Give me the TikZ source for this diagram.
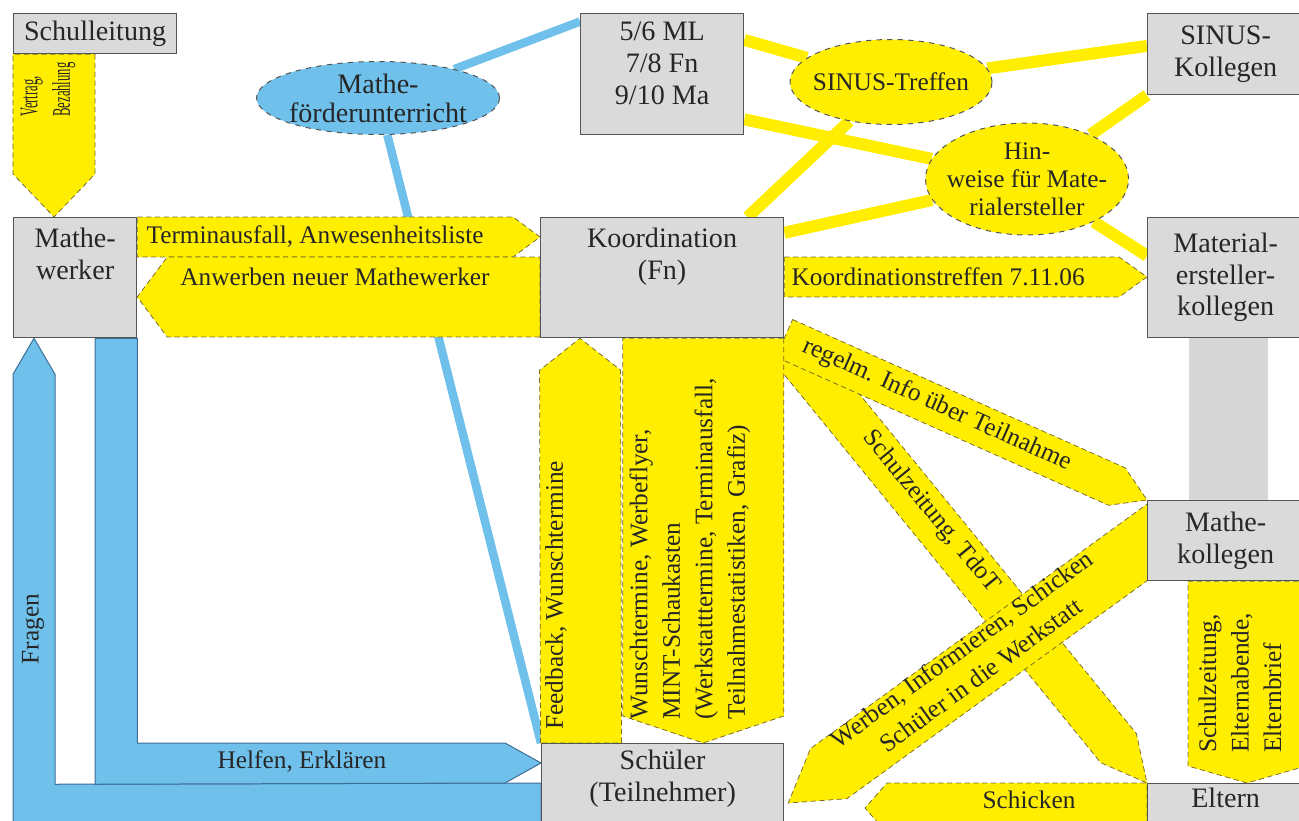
\documentclass[tikz,border=0pt]{standalone}
\usepackage{fontspec}
\usepackage{graphicx}
\setmainfont{Liberation Serif}
\usetikzlibrary{calc,shapes.geometric}

\definecolor{boxgray}{RGB}{218,218,218}
\definecolor{bandgray}{RGB}{214,214,214}
\definecolor{gelb}{RGB}{255,238,0}
\definecolor{hellblau}{RGB}{112,192,236}
\definecolor{randgrau}{RGB}{85,85,85}
\definecolor{randgelb}{RGB}{120,105,40}
\definecolor{randblau}{RGB}{60,110,150}

\newcommand{\boxfont}{\fontsize{16}{18}\selectfont}
\newcommand{\arrfont}{\fontsize{14.4}{18.5}\selectfont}
\newcommand{\ellfont}{\fontsize{14.4}{16}\selectfont}

\pgfdeclarelayer{bg}
\pgfdeclarelayer{mid}
\pgfsetlayers{bg,mid,main}

% block arrow: [style]{tail}{tip}{half width}{head length}
\newcommand{\blockarrow}[5][]{%
  \coordinate (ba-s) at (#2);
  \coordinate (ba-e) at (#3);
  \coordinate (ba-h) at ($(ba-e)!#5!(ba-s)$);
  \filldraw[#1] ($(ba-s)!#4!90:(ba-e)$) -- ($(ba-h)!#4!90:(ba-e)$) -- (ba-e)
    -- ($(ba-h)!#4!-90:(ba-e)$) -- ($(ba-s)!#4!-90:(ba-e)$) -- cycle;}

\begin{document}
\begin{tikzpicture}[x=0.2mm, y=-0.2mm,
    box/.style={draw=randgrau, fill=boxgray, line width=0.25mm, anchor=north west, inner sep=0.5mm, align=center, font=\boxfont, text=black!85},
    lbltop/.style={anchor=north, inner sep=0pt, align=center, font=\boxfont, text=black!85},
    toptext/.style 2 args={label={[lbltop, yshift=-#1]north:#2}},
    gelbell/.style={ellipse, fill=gelb, draw=randgrau, dashed, line width=0.2mm, inner xsep=-3mm, inner ysep=-0.5mm, align=center, font=\ellfont, text=black!85},
    blauell/.style={ellipse, fill=hellblau, draw=randgrau, dashed, line width=0.2mm, inner xsep=-3mm, inner ysep=-0.5mm, align=center, font={\fontsize{16}{16.5}\selectfont}, text=black!85},
    yline/.style={draw=gelb, line width=2.4mm},
    bline/.style={draw=hellblau, line width=1.7mm},
    yarrow/.style={fill=gelb, draw=randgelb, densely dashed, line width=0.15mm},
    barrow/.style={fill=hellblau, draw=randblau, line width=0.2mm},
    albl/.style={font=\arrfont, text=black!85, inner sep=0pt, align=left}]

    \useasboundingbox (0,0) rectangle (1299,821);

    % Boxes
    \node[box, minimum width=32.6mm, minimum height=8mm] (sl) at (13,13) {Schulleitung};
    \node[box, minimum width=24.6mm, minimum height=24mm, toptext={2.2mm}{Mathe-\\werker}] (mw) at (13,217) {};
    \node[box, minimum width=32.6mm, minimum height=24.2mm, toptext={1.8mm}{5/6 ML\\7/8 Fn\\9/10 Ma}] (ml) at (580,13) {};
    \node[box, minimum width=48.6mm, minimum height=24mm, toptext={2.2mm}{Koordination\\(Fn)}] (ko) at (540,217) {};
    \node[box, minimum width=31.2mm, minimum height=16.2mm] (sk) at (1147,13) {SINUS-\\Kollegen};
    \node[box, minimum width=31.2mm, minimum height=24mm] (me) at (1147,217) {Material-\\ersteller-\\kollegen};
    \node[box, minimum width=31.2mm, minimum height=16mm] (mk) at (1147,500) {Mathe-\\kollegen};
    \node[box, minimum width=31.2mm, minimum height=12mm, toptext={1mm}{Eltern}] (el) at (1147,783) {};
    \node[box, minimum width=48.4mm, minimum height=18mm, toptext={1.4mm}{Schüler\\(Teilnehmer)}] (sc) at (541,743) {};

    % Ellipses
    \node[blauell, minimum width=48.6mm, minimum height=14.6mm] (mf) at (378,98) {Mathe-\\förderunterricht};
    \node[gelbell, minimum width=40.4mm, minimum height=17mm] (st) at (891,82) {SINUS-Treffen};
    \node[gelbell, minimum width=40.6mm, minimum height=22.4mm] (hw) at (1027,179) {Hin-\\weise für Mate-\\rialersteller};

    % Lines
    \begin{pgfonlayer}{bg}
        \draw[bline] (mf) -- ($(ml.north west)!0.07!(ml.south west)$);
        \draw[bline] (mf) -- (sc.north west);
        \draw[yline] ($(ml.north east)!0.22!(ml.south east)$) -- (st);
        \draw[yline] (st) -- ($(sk.north west)!0.4!(sk.south west)$);
        \draw[yline] ($(ml.north east)!0.87!(ml.south east)$) -- (hw);
        \draw[yline] (hw) -- (sk.south west);
        \draw[yline] (hw) -- ($(me.north west)!0.32!(me.south west)$);
        \draw[yline] ($(ko.north east)!0.13!(ko.south east)$) -- (hw);
        \draw[yline] ($(ko.north west)!0.85!(ko.north east)$) -- (st);
    \end{pgfonlayer}

    % Arrows
    \begin{pgfonlayer}{mid}
        \filldraw[barrow] ($(mw.south west)+(0,493)$) -- ($(mw.south west)+(0,36)$) -- ($(mw.south west)+(21,0)$)
            -- ($(mw.south west)+(42,36)$) -- ($(mw.south west)+(42,446)$) -- ($(sc.north west)+(0,40)$)
            -- ($(sc.north west)+(0,90)$) -- cycle;
        \filldraw[barrow] ($(mw.south west)+(82,0)$) -- (mw.south east) -- (mw.south east |- sc.north west)
            -- ($(sc.north west)+(-36,0)$) -- ($(sc.north west)+(0,20)$) -- ($(sc.north west)+(-36,40)$)
            -- ($(mw.south west)+(82,446)$) -- cycle;
        \fill[bandgray] ($(me.south west)+(42,0)$) rectangle ($(mk.north west)+(121,0)$);

        \blockarrow[yarrow]{$(sl.south west)+(41,0)$}{$(mw.north west)+(41,0)$}{8.2mm}{8.6mm}
        \blockarrow[yarrow]{$(mw.north east)+(0,20)$}{$(ko.north west)+(0,20)$}{4mm}{5.4mm}
        \blockarrow[yarrow]{$(ko.north west)+(0,80)$}{$(mw.north east)+(0,80)$}{8mm}{6mm}
        \blockarrow[yarrow]{$(ko.north east)+(0,60)$}{$(me.north west)+(0,60)$}{4mm}{5.6mm}
        \blockarrow[yarrow]{ko.south east}{el.north west}{4.6mm}{9mm}
        \blockarrow[yarrow]{ko.south east}{mk.north west}{4.1mm}{6.6mm}
        \blockarrow[yarrow]{$(sc.north west)+(40,0)$}{$(ko.south west)+(40,0)$}{8.1mm}{6.4mm}
        \blockarrow[yarrow]{$(ko.south east)+(-81,0)$}{$(sc.north east)+(-81,0)$}{16.1mm}{5.4mm}
        \blockarrow[yarrow]{$(el.north west)+(0,25)$}{$(el.north west)+(-282,25)$}{5mm}{4.4mm}
        \blockarrow[yarrow]{$(mk.south west)+(100,0)$}{$(el.north west)+(100,0)$}{11.8mm}{3.4mm}
        \blockarrow[yarrow]{$(mk.west)+(19,-12)$}{$(sc.north east)+(4,60)$}{6.2mm}{10mm}
    \end{pgfonlayer}

    % Arrow labels
    \node[albl, rotate=90, anchor=west] (vbl) at (48,117) {\scalebox{0.5}[1]{\vbox{\hbox{Vertrag,}\hbox{Bezahlung}}}};
    \node[albl, anchor=west] (tal) at ($(mw.north east)+(9,20)$) {Terminausfall, Anwesenheitsliste};
    \node[albl] (anl) at (335,277) {Anwerben neuer Mathewerker};
    \node[albl, anchor=west] (ktl) at ($(ko.north east)+(7,60)$) {Koordinationstreffen 7.11.06};
    \node[albl, rotate=-24.1] (ril) at (937,405) {regelm. Info über Teilnahme};
    \node[albl, rotate=-50.8] (szl) at (931,512) {Schulzeitung, TdoT};
    \node[albl, rotate=90, anchor=west] (fbl) at (556,730) {Feedback, Wunschtermine};
    \node[albl, rotate=90, anchor=west] (wtl) at (690,720) {Wunschtermine, Werbeflyer,\\MINT-Schaukasten\\(Werkstatttermine, Terminausfall,\\Teilnahmestatistiken, Grafiz)};
    \node[albl, rotate=36, align=center] (wil) at (971,662) {Werben, Informieren, Schicken\\Schüler in die Werkstatt};
    \node[albl] (scl) at (1029,800) {Schicken};
    \node[albl, rotate=90, anchor=west] (ebl) at (1240,753) {Schulzeitung,\\Elternabende,\\Elternbrief};
    \node[albl] (hel) at (302,762) {Helfen, Erklären};
    \node[albl, rotate=90] (frl) at (33,629) {Fragen};
\end{tikzpicture}
\end{document}
